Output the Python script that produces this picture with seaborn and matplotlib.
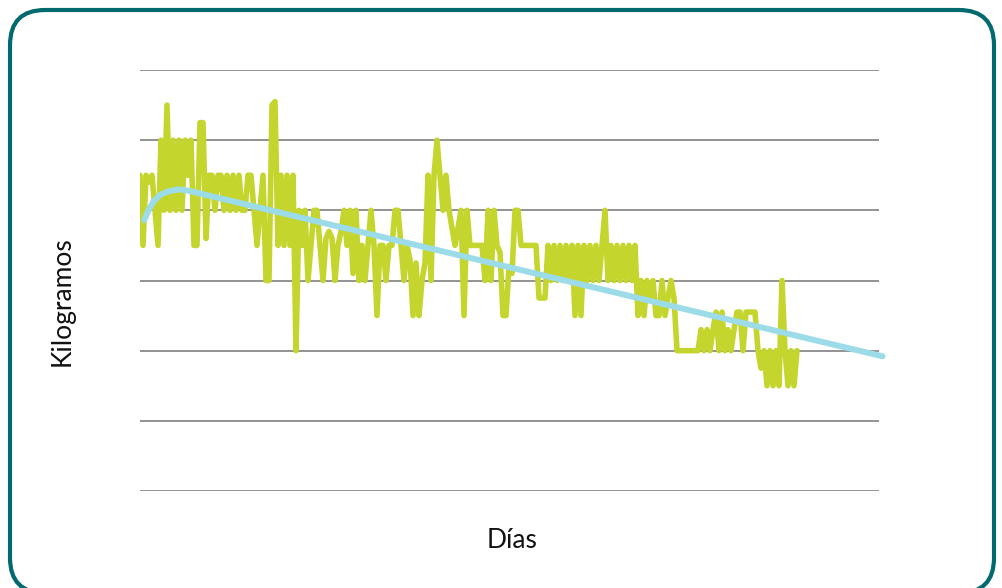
import numpy as np
import pandas as pd
import matplotlib
matplotlib.use("Agg")
import matplotlib.pyplot as plt
from matplotlib.patches import FancyBboxPatch
import seaborn as sns

# peso diario (kg)
peso = [
    74.5, 73.5, 74.5, 74.4, 74.5, 74.0, 73.5, 75.0, 74.0, 75.5,
    74.0, 75.0, 74.0, 75.0, 74.0, 75.0, 74.5, 75.0, 73.5, 73.5,
    75.25, 75.25, 73.6, 74.5, 74.5, 74.0, 74.5, 74.5, 74.0, 74.5,
    74.0, 74.5, 74.0, 74.5, 74.0, 74.0, 74.5, 74.5, 74.0, 73.5,
    74.0, 74.5, 73.0, 73.0, 75.5, 75.55, 73.5, 74.5, 73.5, 74.5,
    73.5, 74.5, 72.0, 74.0, 73.5, 74.0, 73.0, 73.5, 74.0, 74.0,
    73.5, 73.0, 73.6, 73.7, 73.6, 73.0, 73.5, 73.7, 74.0, 73.5,
    74.0, 73.1, 74.0, 73.0, 73.5, 73.0, 73.5, 74.0, 73.5, 72.5,
    73.5, 73.5, 73.0, 73.5, 73.5, 74.0, 74.0, 73.5, 73.0, 73.5,
    73.3, 72.5, 73.25, 72.5, 73.0, 73.25, 74.5, 73.0, 74.5, 75.0,
    74.5, 74.0, 74.5, 74.0, 73.75, 73.5, 73.75, 74.0, 72.5, 74.0,
    73.5, 73.5, 73.5, 73.5, 73.5, 73.0, 74.0, 73.0, 74.0, 73.5,
    73.4, 72.5, 72.5, 73.2, 73.1, 74.0, 74.0, 73.5, 73.5, 73.5,
    73.5, 73.5, 73.5, 72.75, 72.75, 72.75, 73.5, 73.0, 73.5, 73.0,
    73.5, 73.0, 73.5, 73.0, 73.5, 72.5, 73.5, 72.5, 73.5, 73.0,
    73.5, 73.0, 73.5, 73.0, 73.5, 74.0, 73.0, 73.5, 73.0, 73.5,
    73.0, 73.5, 73.0, 73.5, 73.0, 73.5, 72.5, 73.0, 72.5, 73.0,
    72.75, 73.0, 72.5, 72.5, 73.0, 72.5, 72.75, 73.0, 72.75, 72.0,
    72.0, 72.0, 72.0, 72.0, 72.0, 72.0, 72.0, 72.3, 72.0, 72.3,
    72.0, 72.3, 72.55, 72.0, 72.55, 72.0, 72.3, 72.0, 72.3, 72.55,
    72.55, 72.0, 72.55, 72.55, 72.55, 72.55, 72.0, 71.75, 72.0, 71.5,
    72.0, 71.5, 72.0, 71.5, 73.0, 72.0, 71.5, 72.0, 71.5, 72.0,
]
dias = list(range(len(peso)))

# linea de tendencia
tend_dias = [1.4, 2.8, 4.4, 6.7, 9.4, 12.8, 16.1, 247.5]
tend_peso = [73.86, 74.0, 74.12, 74.22, 74.27, 74.30, 74.28, 71.92]

df = pd.DataFrame({"dia": dias, "peso": peso})
tend = pd.DataFrame({"dia": tend_dias, "peso": tend_peso})

sns.set_style("white")
plt.rcParams["font.family"] = ["Lato", "DejaVu Sans"]

fig = plt.figure(figsize=(10.03, 5.88), dpi=100)
ax = fig.add_axes([140 / 1003, 1 - 491 / 588, 739 / 1003, 421 / 588])

sns.lineplot(data=df, x="dia", y="peso", ax=ax, color="#C4D62E",
             linewidth=4.0, estimator=None, zorder=3)
sns.lineplot(data=tend, x="dia", y="peso", ax=ax, color="#9CDBE8",
             linewidth=4.3, estimator=None, zorder=4, clip_on=False,
             solid_capstyle="round")

ax.set_xlim(0, 739 / 3)
ax.set_ylim(70, 76)
ax.set_yticks(range(70, 77))
ax.set_xticks([])
ax.yaxis.grid(True, color="#8A8A8A", linewidth=1.3)
ax.tick_params(left=False, labelleft=False)
ax.set_xlabel("")
ax.set_ylabel("")
for s in ax.spines.values():
    s.set_visible(False)

fig.text(512 / 1003, 1 - 540 / 588, "Días", fontsize=19, color="#111111",
         ha="center", va="center")
fig.text(62 / 1003, 1 - 301 / 588, "Kilogramos", fontsize=19, color="#111111",
         rotation=90, ha="center", va="center")

border = FancyBboxPatch((10 / 1003, -5 / 588), 984 / 1003, 583 / 588,
                        boxstyle="round,pad=0,rounding_size=0.035",
                        transform=fig.transFigure, fill=False,
                        edgecolor="#006A6E", linewidth=3, clip_on=False,
                        mutation_aspect=1003 / 588)
fig.patches.append(border)

fig.savefig("out.png", dpi=100)
